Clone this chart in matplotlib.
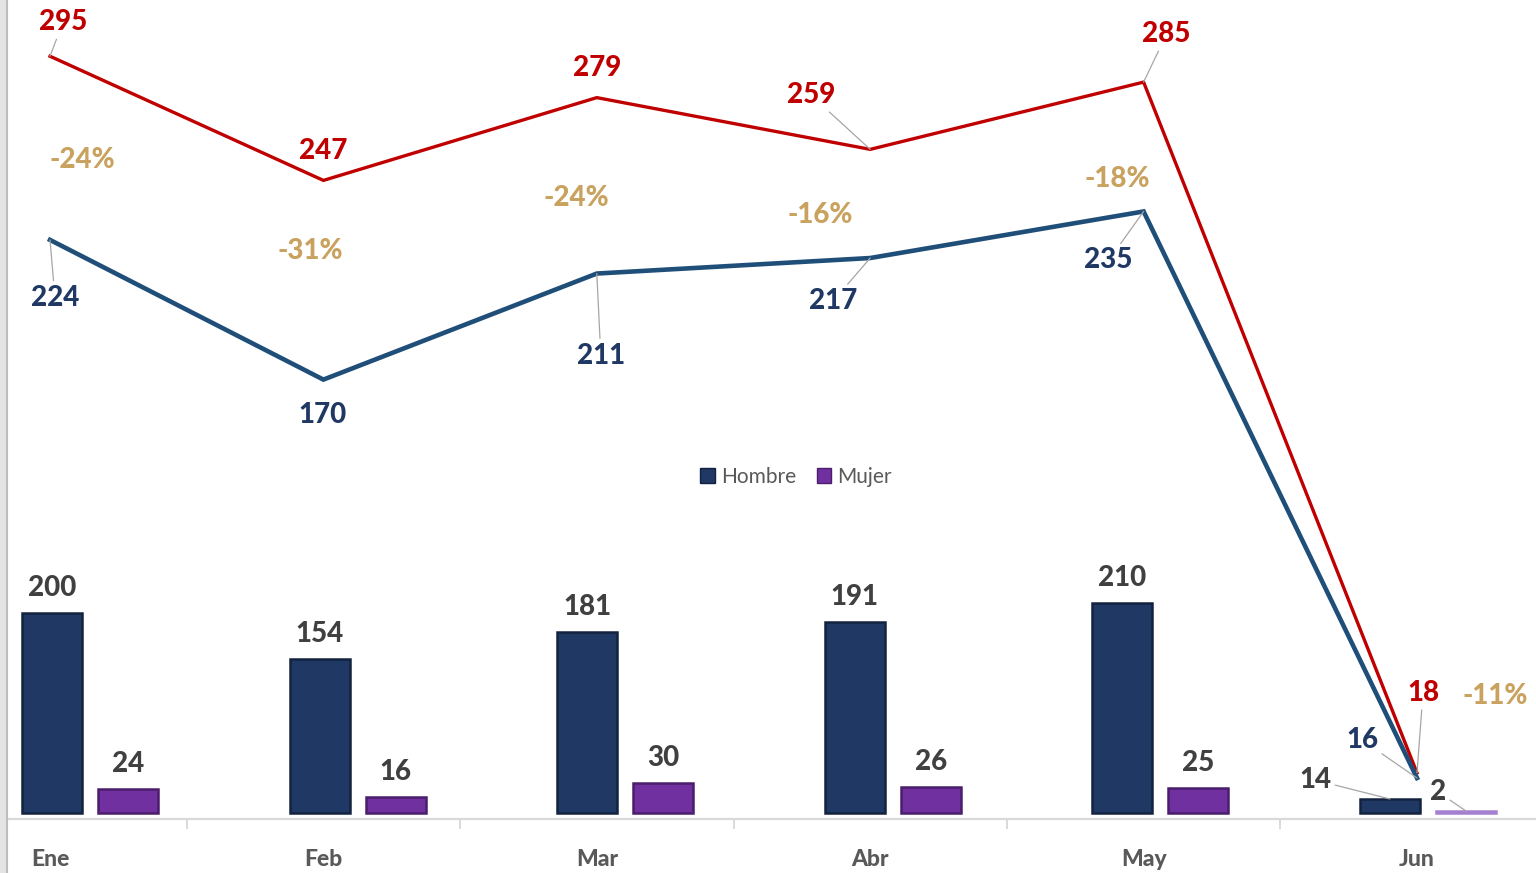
import matplotlib
matplotlib.use('Agg')
import matplotlib.pyplot as plt
from matplotlib.patches import Patch, Rectangle
from matplotlib.lines import Line2D
import numpy as np

plt.rcParams['font.family'] = ['Lato', 'DejaVu Sans']

# ---------------- datos ----------------
meses = ['Ene', 'Feb', 'Mar', 'Abr', 'May', 'Jun']
hombre = [200, 154, 181, 191, 210, 14]
mujer = [24, 16, 30, 26, 25, 2]
total = [224, 170, 211, 217, 235, 16]          # Hombre + Mujer
anterior = [295, 247, 279, 259, 285, 18]       # linea roja
variacion = ['-24%', '-31%', '-24%', '-16%', '-18%', '-11%']

# ---------------- estilos ----------------
ROJO = '#C00000'
AZUL = '#1F4E79'
AZUL_LBL = '#1F3864'
H_COL = '#1F3864'
M_COL = '#7030A0'
GRIS_LBL = '#404040'
PCT_COL = '#C8A25E'
LEADER = '#A6A6A6'
PESO = 900

# desplazamientos de etiquetas (pixeles, y hacia arriba)
off_rojo = [(13, 37), (0, 32), (0, 33), (-59, 57), (23, 51), (6, 83)]
lead_rojo = [True, False, False, True, True, True]
off_azul = [(5, -55), (-1, -32), (4, -79), (-37, -40), (-35, -46), (-55, 41)]
lead_azul = [True, False, True, True, True, True]
off_pct = [(32, 83), (-13, 132), (-20, 79), (-50, 46), (-26, 35), (78, 85)]
off_h = [(0, 28)] * 5 + [(-75, 22)]
off_m = [(0, 28)] * 5 + [(-28, 22)]
lead_bar = [False] * 5 + [True]

W, H = 1536, 873
fig = plt.figure(figsize=(W / 100, H / 100), dpi=100)
fig.patch.set_facecolor('white')

x = np.arange(len(meses))

# ---------------- barras (eje secundario) ----------------
axb = fig.add_axes([0, 0, 1, 1])
axb.set_xlim(-90 / 267.6, (W - 90) / 267.6)
axb.set_ylim(-60, 813)
axb.axis('off')

bw = 0.224
dx = 0.142
bars_h = axb.bar(x - dx, hombre, width=bw, color=H_COL, edgecolor='#13233F', linewidth=1.8, zorder=2)
bars_m = axb.bar(x + dx, mujer, width=bw, color=M_COL, edgecolor='#4A1E6B', linewidth=1.8, zorder=2)
bars_m[-1].set_edgecolor('#A57FD0')
bars_m[-1].set_facecolor('#A57FD0')

def etiqueta(ax, xi, yi, txt, off, color, leader, size=20, weight=PESO):
    kw = {}
    if leader:
        kw['arrowprops'] = dict(arrowstyle='-', color=LEADER, lw=0.9, shrinkA=1, shrinkB=0)
    # -3 px: el centro de la caja incluye el descendente
    ax.annotate(txt, xy=(xi, yi), xytext=(off[0], off[1] - 3), textcoords='offset pixels',
                ha='center', va='center', fontsize=size, fontweight=weight,
                color=color, zorder=5, **kw)

for i in range(len(meses)):
    etiqueta(axb, x[i] - dx, hombre[i], str(hombre[i]), off_h[i], GRIS_LBL, lead_bar[i])
    etiqueta(axb, x[i] + dx, mujer[i], str(mujer[i]), off_m[i], GRIS_LBL, lead_bar[i])

# ---------------- lineas (eje principal) ----------------
axl = fig.add_axes([0, 0, 1, 1])
axl.patch.set_alpha(0)
axl.set_xlim(-50 / 273.4, (W - 50) / 273.4)
axl.set_ylim(-(H - 819.4) / 2.587, 819.4 / 2.587)

axl.plot(x, anterior, color=ROJO, lw=2.4, zorder=3, solid_joinstyle='miter')
axl.plot(x, total, color=AZUL, lw=3.3, zorder=3, solid_joinstyle='miter')

for i in range(len(meses)):
    etiqueta(axl, x[i], anterior[i], str(anterior[i]), off_rojo[i], ROJO, lead_rojo[i])
    etiqueta(axl, x[i], total[i], str(total[i]), off_azul[i], AZUL_LBL, lead_azul[i])
    etiqueta(axl, x[i], total[i], variacion[i], off_pct[i], PCT_COL, False)

# eje x
for s in ['top', 'left', 'right']:
    axl.spines[s].set_visible(False)
axl.spines['bottom'].set_position(('data', 0))
axl.spines['bottom'].set_color('#D9D9D9')
axl.spines['bottom'].set_linewidth(1.6)
axl.set_yticks([])
axl.set_xticks(x)
axl.set_xticklabels(meses)
axl.set_xticks(x[:-1] + 0.5, minor=True)
axl.tick_params(axis='x', which='major', length=0, pad=21, labelsize=16.5,
                labelcolor='#595959')
for t in axl.get_xticklabels():
    t.set_fontweight(PESO)
axl.tick_params(axis='x', which='minor', length=7.5, width=1.4, color='#D9D9D9',
                direction='out')

# leyenda
handles = [Patch(facecolor=H_COL, edgecolor='#13233F'),
           Patch(facecolor=M_COL, edgecolor='#4A1E6B')]
axl.legend(handles, ['Hombre', 'Mujer'], loc='center',
           bbox_to_anchor=(796 / W, 1 - 477 / H), ncol=2, frameon=False,
           fontsize=15, labelcolor='#595959', handlelength=0.7, handleheight=0.7,
           handletextpad=0.3, columnspacing=1.0)

# borde gris izquierdo de la hoja
fig.patches.append(Rectangle((0, 0), 6 / W, 1, transform=fig.transFigure,
                             facecolor='#E4E4E4', edgecolor='none', zorder=10))
fig.lines.append(Line2D([7 / W, 7 / W], [0, 1], transform=fig.transFigure,
                        color='#BDBDBD', lw=1.5, zorder=10))

fig.savefig('out.png', dpi=100)
